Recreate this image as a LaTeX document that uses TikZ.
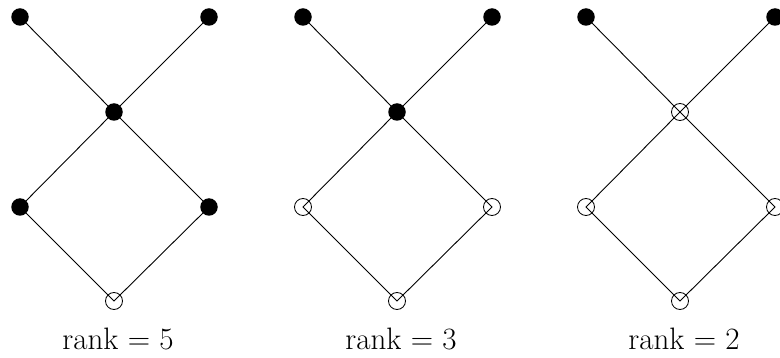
\documentclass[tikz,border=0pt]{standalone}
\usepackage{fontspec}
\usetikzlibrary{positioning}
\begin{document}
\begin{tikzpicture}[x=1pt,y=-1pt,
    full/.style={circle,fill=black,inner sep=0pt,minimum size=17.5pt},
    hollow/.style={circle,draw=black,line width=0.8pt,inner sep=0pt,minimum size=17pt},
    edge/.style={line width=0.9pt}]
    \useasboundingbox (0,0) rectangle (780,358);

    % One lattice per rank: shift, middle style, side style, rank
    \foreach \k/\dx/\ms/\ss/\rk in {1/0/full/full/5, 2/283/full/hollow/3, 3/566/hollow/hollow/2}{
        % Elements
        \node[full] (tl\k) at (20+\dx,17)  {};
        \node[full] (tr\k) at (209+\dx,17) {};
        \node[\ms]  (m\k)  at (114+\dx,112) {};
        \node[\ss]  (l\k)  at (20+\dx,207) {};
        \node[\ss]  (r\k)  at (209+\dx,207) {};
        \node[hollow] (b\k) at (114+\dx,301) {};

        % Covering relations
        \draw[edge] (tl\k.center) -- (m\k.center) -- (l\k.center) -- (b\k.center)
                    -- (r\k.center) -- (m\k.center) -- (tr\k.center);

        % Label
        \node[font=\fontsize{31}{36}\selectfont,anchor=base,inner sep=0pt] (lab\k)
            at (118+\dx,350) {rank = \rk};
    }
\end{tikzpicture}
\end{document}
